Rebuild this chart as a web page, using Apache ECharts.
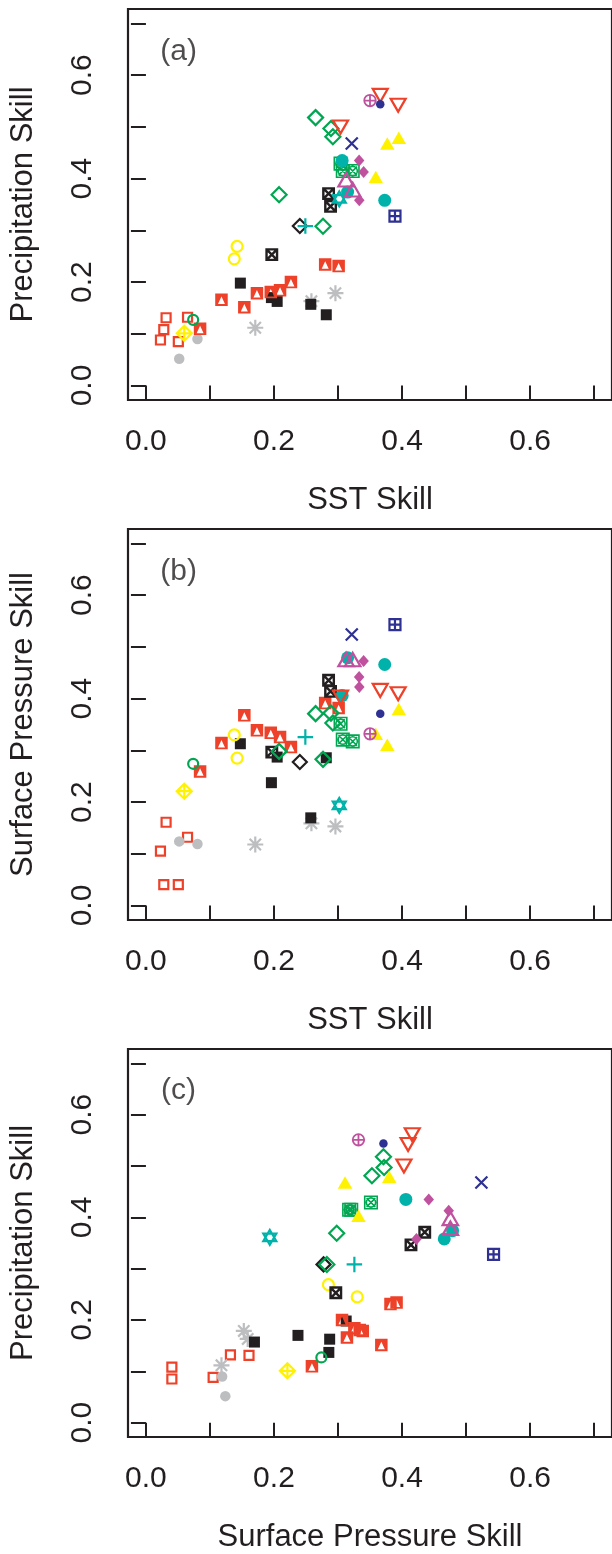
<!DOCTYPE html>
<html><head><meta charset="utf-8">
<script src="https://cdn.jsdelivr.net/npm/echarts@6/dist/echarts.min.js"></script>
<style>html,body{margin:0;padding:0;background:#fff}#c{width:612px;height:1554px}</style>
</head><body><div id="c"></div>
<script>
// ---- data: one entry per model ----
const modelGroup = [
 'rsq','rsq','rsq','rsq','rsq',
 'rsqtri','rsqtri','rsqtri','rsqtri','rsqtri','rsqtri','rsqtri','rsqtri','rsqtri',
 'rdtri','rdtri','rdtri',
 'gdia','gdia','gdia','gdia','gdia',
 'gcirc',
 'gboxx','gboxx','gboxx',
 'ycirc','ycirc',
 'ydiaplus',
 'ytri','ytri','ytri',
 'ksq','ksq','ksq','ksq','ksq',
 'kboxx','kboxx','kboxx',
 'kdia',
 'gycirc','gycirc',
 'gyast','gyast','gyast',
 'tcirc','tcirc','tcirc',
 'tplus',
 'tstar',
 'mdia','mdia','mdia',
 'mtri','mtri',
 'mcplus',
 'ndot',
 'ncross',
 'nsqplus'
];
const sstSkill = [
 0.0315,0.065,0.0279,0.0227,0.0506,
 0.280,0.301,0.2265,0.2095,0.195,0.1734,0.118,0.1537,0.0846,
 0.366,0.394,0.304,
 0.265,0.289,0.292,0.208,0.2766,
 0.0738,
 0.304,0.3075,0.323,
 0.1424,0.138,
 0.0599,
 0.377,0.395,0.359,
 0.1475,0.196,0.205,0.2575,0.2817,
 0.1966,0.2853,0.2884,
 0.2404,
 0.052,0.0805,
 0.1708,0.2585,0.296,
 0.3065,0.315,0.373,
 0.249,
 0.302,
 0.333,0.340,0.3333,
 0.3127,0.323,
 0.350,
 0.366,
 0.3215,
 0.389
];
const slpSkill = [
 0.161,0.132,0.0405,0.105,0.0405,
 0.3915,0.382,0.3063,0.3256,0.334,0.3387,0.314,0.3677,0.2593,
 0.416,0.4095,0.403,
 0.371,0.372,0.353,0.298,0.2826,
 0.274,
 0.3515,0.3207,0.3174,
 0.285,0.330,
 0.221,
 0.311,0.380,0.332,
 0.3128,0.2375,0.287,0.1695,0.2857,
 0.2966,0.4355,0.414,
 0.2774,
 0.124,0.119,
 0.118,0.159,0.1529,
 0.406,0.479,0.466,
 0.3256,
 0.1935,
 0.4418,0.473,0.4225,
 0.4755,0.4755,
 0.332,
 0.371,
 0.524,
 0.543
];
const prSkill = [
 0.131,0.132,0.108,0.088,0.085,
 0.234,0.231,0.200,0.184,0.1806,0.1786,0.166,0.1515,0.1097,
 0.561,0.542,0.500,
 0.518,0.497,0.481,0.369,0.308,
 0.127,
 0.429,0.4148,0.4148,
 0.269,0.245,
 0.101,
 0.468,0.479,0.403,
 0.198,0.170,0.1626,0.157,0.1368,
 0.253,0.371,0.3464,
 0.3083,
 0.0516,0.090,
 0.1117,0.163,0.1786,
 0.435,0.374,0.358,
 0.3083,
 0.361,
 0.435,0.413,0.358,
 0.398,0.3787,
 0.551,
 0.544,
 0.468,
 0.3277
];
const tickValues = [0,0.1,0.2,0.3,0.4,0.5,0.6,0.7];
const labelValues = [0,0.2,0.4,0.6];
const panelTags = ['(a)','(b)','(c)'];
const panelX = ['sst','sst','slp'];
const panelY = ['pr','slp','pr'];
const axisTitles = {sst:'SST Skill', slp:'Surface Pressure Skill', pr:'Precipitation Skill'};

// ---- styling ----
const RED='#ee4129', GREEN='#00a651', YEL='#fff200', BLK='#231f20', GRY='#bcbec0',
      TEAL='#00b2a9', MAG='#c0519f', NAVY='#2e3192';
const NONE='rgba(0,0,0,0)';
const P = {
  sqTri: 'path://M0,0H10V10H0Z M5,2.5L2.2,8.5H7.8Z',
  sqX: 'path://M0,0H10V10H0Z M0,0L10,10 M10,0L0,10',
  sqPlus: 'path://M0,0H10V10H0Z M5,0V10 M0,5H10',
  dia: 'path://M5,0L10,5L5,10L0,5Z',
  diaPlus: 'path://M5,0L10,5L5,10L0,5Z M5,0V10 M0,5H10',
  dtri: 'path://M0,0H10L5,8.66Z',
  utri: 'path://M5,0L10,8.66H0Z',
  cross: 'path://M0,0L10,10 M10,0L0,10',
  plus: 'path://M5,0V10 M0,5H10',
  ast: 'path://M5,0V10 M0,5H10 M1.46,1.46L8.54,8.54 M8.54,1.46L1.46,8.54',
  cplus: 'path://M0,5A5,5 0 1,0 10,5A5,5 0 1,0 0,5Z M5,0V10 M0,5H10',
  star: 'path://M5,0L10,7.5H0Z M0,2.5H10L5,10Z',
  boxCircX: 'path://M0,0H10V10H0Z M1.5,1.5L8.5,8.5 M8.5,1.5L1.5,8.5 M1.3,5A3.7,3.7 0 1,0 8.7,5A3.7,3.7 0 1,0 1.3,5Z'
};
const S = {
  rsq:    {symbol:'rect', size:9, fill:NONE, stroke:RED, lw:2.2},
  rsqtri: {symbol:P.sqTri, size:12.5, fill:RED, stroke:NONE, lw:0},
  rdtri:  {symbol:P.dtri, size:[15,13], fill:NONE, stroke:RED, lw:2.2},
  gdia:   {symbol:P.dia, size:15, fill:NONE, stroke:GREEN, lw:2.2},
  gcirc:  {symbol:'circle', size:10, fill:NONE, stroke:GREEN, lw:2.2},
  gboxx:  {symbol:P.boxCircX, size:12.5, fill:NONE, stroke:GREEN, lw:1.6},
  ycirc:  {symbol:'circle', size:11, fill:NONE, stroke:YEL, lw:2.2},
  ydiaplus:{symbol:P.diaPlus, size:15, fill:NONE, stroke:YEL, lw:2.2},
  ytri:   {symbol:'triangle', size:[14.5,12.5], fill:YEL, stroke:NONE, lw:0},
  ksq:    {symbol:'rect', size:11, fill:BLK, stroke:NONE, lw:0},
  kboxx:  {symbol:P.sqX, size:10.5, fill:NONE, stroke:BLK, lw:2.4},
  kdia:   {symbol:P.dia, size:14, fill:NONE, stroke:BLK, lw:2.2},
  gycirc: {symbol:'circle', size:10.5, fill:GRY, stroke:NONE, lw:0},
  gyast:  {symbol:P.ast, size:16, fill:NONE, stroke:GRY, lw:2.2},
  tcirc:  {symbol:'circle', size:13, fill:TEAL, stroke:NONE, lw:0},
  tplus:  {symbol:P.plus, size:15.5, fill:NONE, stroke:TEAL, lw:2.2},
  tstar:  {symbol:P.star, size:[13,15], fill:NONE, stroke:TEAL, lw:2.2},
  mdia:   {symbol:'diamond', size:[10.5,12], fill:MAG, stroke:NONE, lw:0},
  mtri:   {symbol:P.utri, size:[15.5,13.5], fill:NONE, stroke:MAG, lw:2.2},
  mcplus: {symbol:P.cplus, size:11.5, fill:NONE, stroke:MAG, lw:1.8},
  ndot:   {symbol:'circle', size:8.5, fill:NAVY, stroke:NONE, lw:0},
  ncross: {symbol:P.cross, size:12, fill:NONE, stroke:NAVY, lw:2.2},
  nsqplus:{symbol:P.sqPlus, size:11, fill:NONE, stroke:NAVY, lw:2.2}
};
const groupOrder = ['rsq','gycirc','gyast','ksq','rsqtri','gcirc','ydiaplus','ycirc','kboxx','kdia','tplus',
  'gdia','gboxx','tstar','tcirc','mdia','mtri','ytri','rdtri','mcplus','ndot','ncross','nsqplus'];

const values = {sst:sstSkill, slp:slpSkill, pr:prSkill};
const FONT = '"Liberation Sans", Arial, Helvetica, sans-serif';
const PANEL_H = 520, TOP0 = 9, GRID_H = 391;

const grids=[], xAxes=[], yAxes=[], series=[];
for (let p=0;p<3;p++){
  grids.push({left:128, top:TOP0+p*PANEL_H, width:488, height:GRID_H, show:true,
    borderColor:BLK, borderWidth:2.2, backgroundColor:'transparent', containLabel:false});
  const common = {gridIndex:p, type:'value', min:-0.028, max:0.728,
    axisLine:{show:false}, splitLine:{show:false},
    axisTick:{show:true, length:15, customValues:tickValues, lineStyle:{color:BLK, width:2}},
    nameLocation:'middle',
    nameTextStyle:{fontSize:31, color:BLK, fontFamily:FONT}};
  xAxes.push(Object.assign({}, common, {position:'bottom', name:axisTitles[panelX[p]], nameGap:85,
    axisLabel:{customValues:labelValues, formatter:v=>v.toFixed(1), fontSize:30, color:BLK, fontFamily:FONT, margin:27}}));
  yAxes.push(Object.assign({}, common, {position:'left', name:axisTitles[panelY[p]], nameGap:89,
    axisLabel:{customValues:labelValues, formatter:v=>v.toFixed(1), fontSize:30, color:BLK, fontFamily:FONT, margin:30, rotate:90}}));
  for (const g of groupOrder){
    const st = S[g];
    const data = [];
    modelGroup.forEach((mg,i)=>{ if(mg===g) data.push([values[panelX[p]][i], values[panelY[p]][i]]); });
    series.push({type:'scatter', xAxisIndex:p, yAxisIndex:p, data, symbol:st.symbol, symbolSize:st.size,
      itemStyle:{color:st.fill, borderColor:st.stroke, borderWidth:st.lw, opacity:1},
      emphasis:{disabled:true}, silent:true, z:2});
  }
  series.push({type:'scatter', xAxisIndex:p, yAxisIndex:p, data:[[0.051,0.646]], symbolSize:1,
    itemStyle:{color:NONE}, silent:true,
    label:{show:true, position:'inside', formatter:panelTags[p], fontSize:30, color:BLK, fontFamily:FONT}});
}

const chart = echarts.init(document.getElementById('c'), null, {renderer:'canvas'});
chart.setOption({animation:false, backgroundColor:'#fff', grid:grids, xAxis:xAxes, yAxis:yAxes, series});
</script>
</body></html>
